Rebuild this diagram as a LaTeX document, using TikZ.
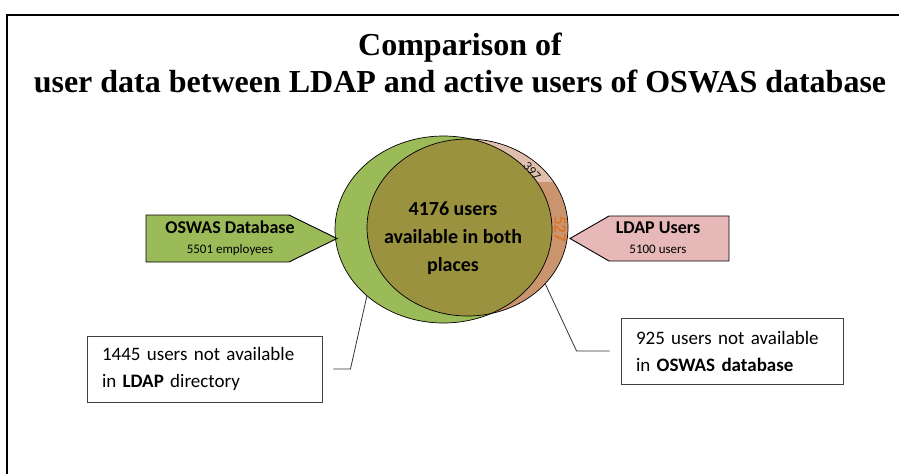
\documentclass[tikz,border=0pt]{standalone}
\usepackage{fontspec}
\setmainfont{Carlito}
\newfontfamily\titlefont{Liberation Serif}
\usetikzlibrary{positioning,shapes.geometric}
\tikzset{
  ring/.style  ={ellipse, draw=black, line width=0.7pt, inner sep=0pt},
  tag/.style   ={draw=black, line width=0.9pt},
  note/.style  ={draw=black!75, line width=0.9pt, align=left, inner ysep=0pt,
                 inner xsep=15pt, minimum height=66pt, font=\fontsize{19}{27}\selectfont},
  lead/.style  ={draw=black!80, line width=0.8pt},
}
\definecolor{oswasgreen}{RGB}{155,187,89}
\definecolor{ldappink}{RGB}{230,184,183}
\definecolor{ldaptan}{RGB}{201,148,110}
\definecolor{ldaplight}{RGB}{224,192,172}
\definecolor{both}{RGB}{154,146,62}
\definecolor{orangetxt}{RGB}{228,108,10}

\begin{document}
\begin{tikzpicture}[x=1pt, y=-1pt]
  \useasboundingbox (0,0) rectangle (899,474);

  % ---------- frame and title ----------
  \draw[line width=2pt] (7,474) -- (7,15) -- (899,15);
  \node[font=\titlefont\bfseries\fontsize{32}{37}\selectfont, align=center] (title) at (460,63)
    {Comparison of\\user data between LDAP and active users of OSWAS database};

  % ---------- Venn ----------
  \fill[oswasgreen] (443.5,229.5) ellipse [x radius=108.5pt, y radius=93.5pt];
  \fill[ldaptan] (467.5,227.5) ellipse [x radius=100.5pt, y radius=88.5pt];
  \begin{scope}
    \clip (467.5,227.5) ellipse [x radius=100.5pt, y radius=88.5pt];
    \fill[ldaplight] (360,130) rectangle (580,182);
    \clip (443.5,229.5) ellipse [x radius=108.5pt, y radius=93.5pt];
    \fill[both] (330,130) rectangle (580,330);
  \end{scope}
  \node[ring, minimum width=217pt, minimum height=187pt] (oswas) at (443.5,229.5) {};
  \node[ring, minimum width=201pt, minimum height=177pt] (ldap) at (467.5,227.5) {};

  \node[font=\bfseries\fontsize{20}{28}\selectfont, align=center] (common) at (453,238)
    {4176 users\\available in both\\places};
  \node[font=\fontsize{13}{13}\selectfont, rotate=-48, text=black!90, inner sep=0pt] (part1) at (532,171) {397};
  \node[font=\fontsize{17}{17}\selectfont, rotate=-90, text=orangetxt, inner sep=0pt] (part2) at (560,229) {527};

  % ---------- tags ----------
  \filldraw[tag, fill=oswasgreen] (146,215) -- (289,215) -- (337,238.5) -- (289,262) -- (146,262) -- cycle;
  \node[align=center, font=\fontsize{13}{20}\selectfont] (oswastag) at (230,238)
    {{\bfseries\fontsize{18}{18}\selectfont OSWAS Database}\\5501 employees};

  \filldraw[tag, fill=ldappink] (729,216) -- (609,216) -- (570,238.5) -- (609,261) -- (729,261) -- cycle;
  \node[align=center, font=\fontsize{13}{20}\selectfont] (ldaptag) at (658,238)
    {{\bfseries\fontsize{18}{18}\selectfont LDAP Users}\\5100 users};

  % ---------- callouts ----------
  \node[note, minimum width=235pt, text width=205pt] (onlyoswas) at (204.5,369)
    {1445 users not available\\in \textbf{LDAP} directory};
  \node[note, minimum width=220pt, text width=192pt] (onlyldap) at (732,351)
    {925 users not available\\in \textbf{OSWAS database}};

  \draw[lead] ([xshift=11pt]onlyoswas.east) -- ++(17,0) -- (oswas.221);
  \draw[lead] ([xshift=-11pt]onlyldap.west) -- ++(-33,0) -- (ldap.324);
\end{tikzpicture}
\end{document}
